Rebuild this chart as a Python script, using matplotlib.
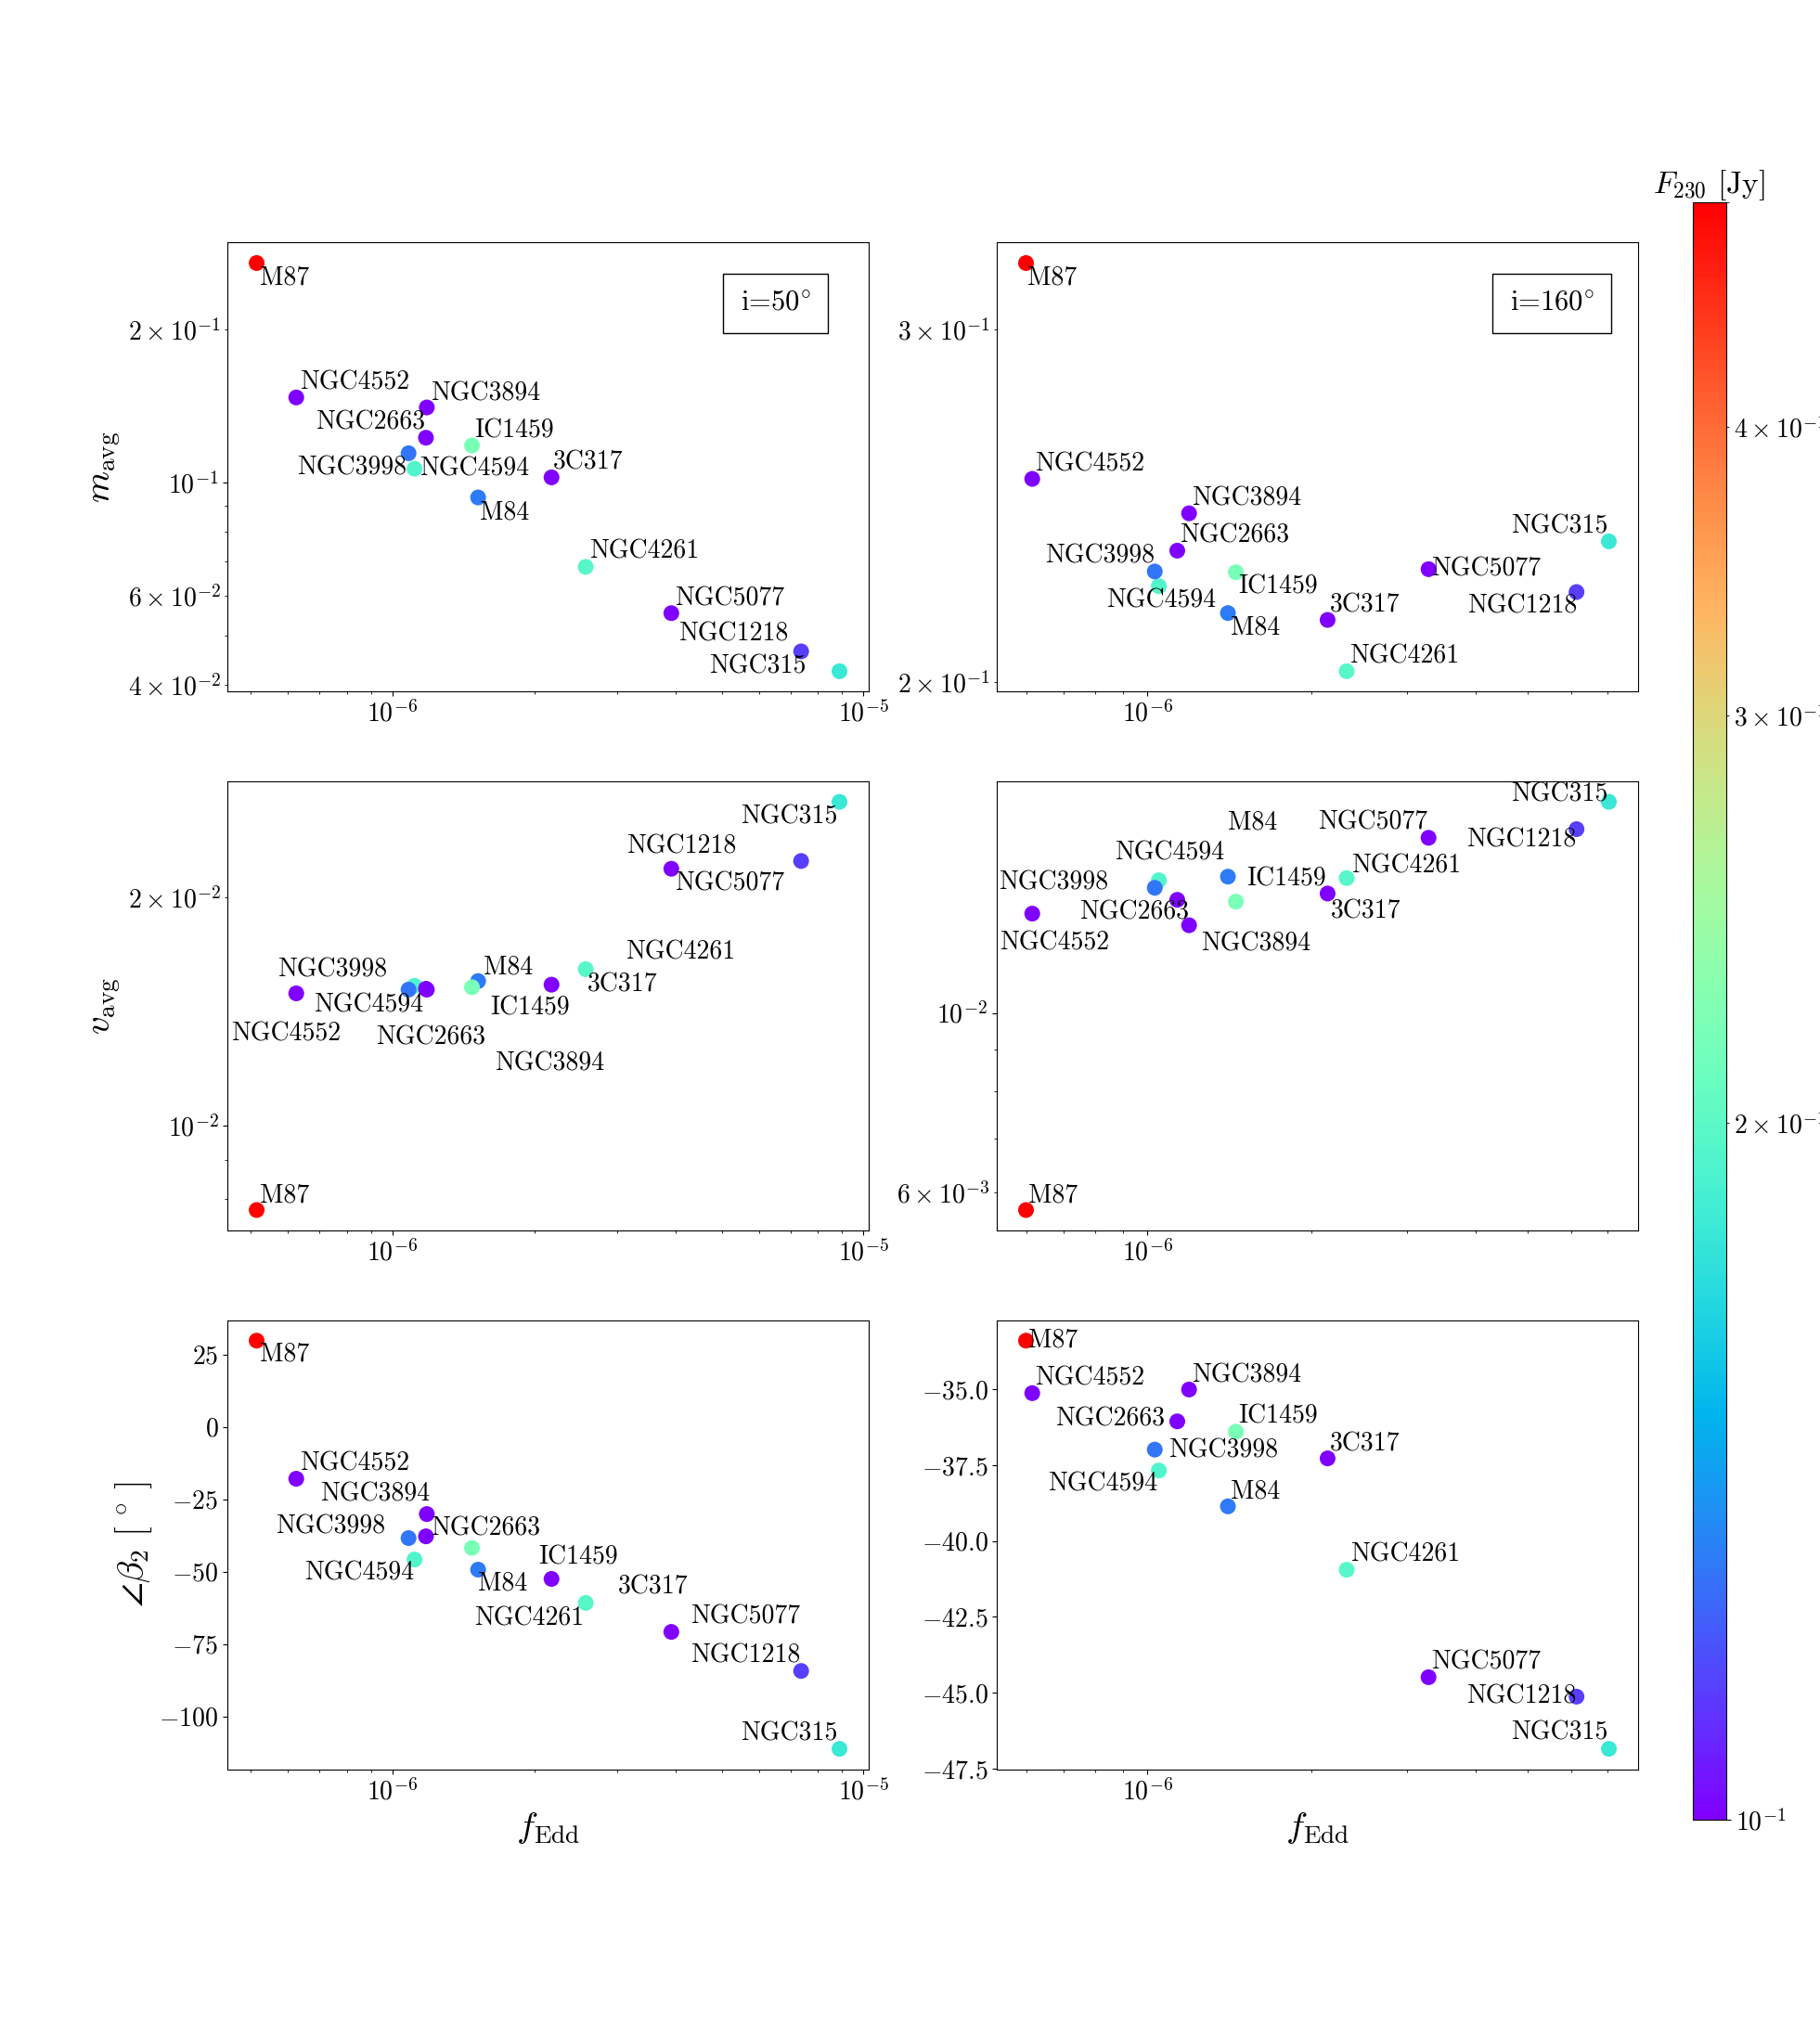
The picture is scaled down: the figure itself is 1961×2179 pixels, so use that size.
import numpy as np
import matplotlib
matplotlib.use("Agg")
import matplotlib.pyplot as plt
from matplotlib.colors import LogNorm
from matplotlib.ticker import MultipleLocator

plt.rcParams['font.family'] = 'serif'
plt.rcParams['font.serif'] = ['cmr10']
plt.rcParams['mathtext.fontset'] = 'cm'
plt.rcParams['axes.formatter.use_mathtext'] = True
plt.rcParams['axes.unicode_minus'] = True

# ---------------- data ----------------
names = ['M87', 'M84', 'NGC4594', 'IC1459', 'NGC3998', 'NGC2663', 'NGC3894',
         'NGC4552', '3C317', 'NGC4261', 'NGC5077', 'NGC1218', 'NGC315']

F230 = [0.5, 0.13, 0.194, 0.22, 0.128, 0.1, 0.1,
        0.1, 0.1, 0.197, 0.1, 0.114, 0.18]

fedd_50 = [5.15e-7, 1.52e-6, 1.114e-6, 1.475e-6, 1.082e-6, 1.178e-6, 1.183e-6,
           6.25e-7, 2.176e-6, 2.572e-6, 3.908e-6, 7.37e-6, 8.89e-6]
fedd_160 = [5.98e-7, 1.405e-6, 1.049e-6, 1.453e-6, 1.031e-6, 1.134e-6, 1.192e-6,
            6.14e-7, 2.142e-6, 2.322e-6, 3.283e-6, 6.14e-6, 7.04e-6]

m_avg_50 = [0.270, 0.0935, 0.1065, 0.1183, 0.1142, 0.1225, 0.1405,
            0.147, 0.1024, 0.0683, 0.0554, 0.0466, 0.0426]
m_avg_160 = [0.3238, 0.2166, 0.2234, 0.2270, 0.2272, 0.2327, 0.2429,
             0.2527, 0.2149, 0.2026, 0.2278, 0.2219, 0.2352]

v_avg_50 = [0.00774, 0.01552, 0.01530, 0.01523, 0.01512, 0.01516, 0.01512,
            0.01495, 0.01535, 0.01609, 0.02183, 0.02235, 0.02675]
v_avg_160 = [0.00571, 0.01473, 0.01458, 0.01372, 0.01427, 0.01379, 0.01283,
             0.01326, 0.01404, 0.01467, 0.01645, 0.01686, 0.01822]

beta2_50 = [29.8, -49.3, -45.8, -41.8, -38.4, -37.8, -30.1,
            -17.9, -52.5, -60.8, -70.8, -84.3, -111.2]
beta2_160 = [-33.40, -38.86, -37.68, -36.40, -36.99, -36.06, -35.01,
             -35.13, -37.28, -40.95, -44.49, -45.13, -46.85]

incl_labels = [r'i=50$^{\circ}$', r'i=160$^{\circ}$']
beta_tick_steps = [25, 2.5]

# label offsets (pixels) per panel, same order as names
offs = {
    (0, 0): [(3, -23), (2, -23), (5, -7), (3, 9), (-120, -23), (-119, 9), (4, 8),
             (4, 9), (2, 9), (4, 9), (4, 8), (-132, 11), (-140, -2)],
    (0, 1): [(2, -23), (3, -23), (-57, -23), (3, -23), (-118, 9), (3, 9), (3, 9),
             (3, 9), (2, 9), (3, 9), (3, -7), (-118, -23), (-105, 9)],
    (1, 0): [(3, 8), (6, 8), (-109, -28), (20, -30), (-141, 14), (-54, -60), (73, -87),
             (-70, -51), (39, -7), (43, 11), (4, -23), (-188, 8), (-106, -23)],
    (1, 1): [(3, 8), (0, 51), (-48, 22), (12, 17), (-168, -2), (-105, -21), (13, -27),
             (-35, -39), (3, -27), (5, 6), (-119, 9), (-119, -19), (-105, 1)],
    (2, 0): [(3, -22), (0, -22), (-119, -22), (72, -17), (-143, 5), (5, 1), (-115, 14),
             (4, 9), (72, -16), (-120, -24), (21, 9), (-119, 9), (-106, 9)],
    (2, 1): [(3, -7), (3, 9), (-120, -22), (3, 9), (15, -8), (-131, -5), (3, 8),
             (3, 9), (2, 8), (4, 9), (3, 9), (-119, -7), (-105, 10)],
}

xs = [fedd_50, fedd_160]
ys = [[m_avg_50, m_avg_160], [v_avg_50, v_avg_160], [beta2_50, beta2_160]]
ylabels = [r'$m_{\rm avg}$', r'$v_{\rm avg}$', r'$\angle\beta_2\ [\ ^{\circ}\ ]$']

fig, axes = plt.subplots(3, 2, figsize=(19.61, 21.79), dpi=100)
fig.subplots_adjust(left=0.125, right=0.9, bottom=0.125, top=0.88,
                    wspace=0.2, hspace=0.2)

norm = LogNorm(vmin=min(F230), vmax=max(F230))
cmap = plt.get_cmap('rainbow')

sc = None
for r in range(3):
    for c in range(2):
        ax = axes[r, c]
        x = xs[c]
        y = ys[r][c]
        sc = ax.scatter(x, y, c=F230, cmap=cmap, norm=norm, s=150, edgecolors='none')
        ax.set_xscale('log')
        if r < 2:
            ax.set_yscale('log')
        else:
            ax.yaxis.set_major_locator(MultipleLocator(beta_tick_steps[c]))
        for i, nm in enumerate(names):
            ax.annotate(nm, (x[i], y[i]), xytext=offs[(r, c)][i],
                        textcoords='offset pixels', ha='left', va='baseline',
                        fontsize=20)
        ax.tick_params(which='both', labelsize=20)
        if c == 0:
            ax.set_ylabel(ylabels[r], fontsize=28)
        if r == 2:
            ax.set_xlabel(r'$f_{\rm Edd}$', fontsize=28)
        if r == 0:
            ax.text(0.8, 0.865, incl_labels[c], transform=ax.transAxes,
                    fontsize=22, ha='left', va='center',
                    bbox=dict(boxstyle='square,pad=0.6', fc='white', ec='black'))

cax = fig.add_axes([0.93, 0.1, 0.0185, 0.8])
cb = fig.colorbar(sc, cax=cax)
cb.ax.tick_params(which='both', labelsize=20)
cb.ax.set_title(r'$F_{230}$ [Jy]', fontsize=24, pad=3)

fig.savefig('out.png', dpi=100)
